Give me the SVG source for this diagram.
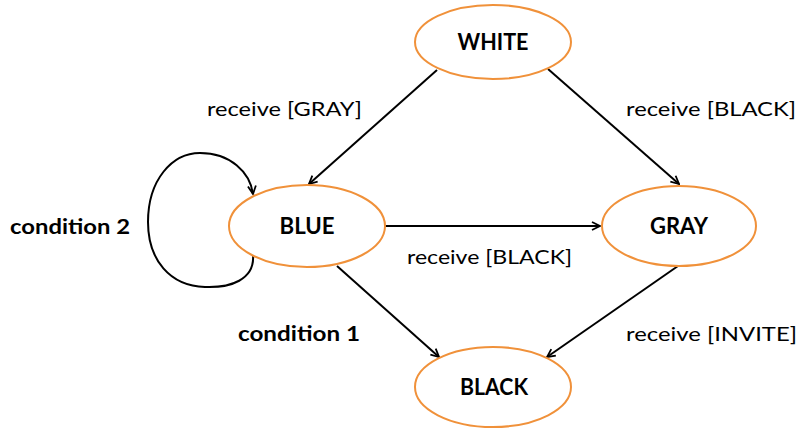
<svg xmlns="http://www.w3.org/2000/svg" width="798" height="434" viewBox="0 0 798 434">
<style>
.node ellipse{fill:#fff;stroke:#F0913A;stroke-width:2}
.nl{font-family:Lato,"Open Sans","Liberation Sans",sans-serif;font-weight:bold;font-size:23px;fill:#000;text-anchor:middle}
.el{font-family:Lato,"Open Sans","Liberation Sans",sans-serif;font-size:20px;fill:#000}
.eb{font-family:Lato,"Open Sans","Liberation Sans",sans-serif;font-size:20px;font-weight:bold;fill:#000}
.edges path{fill:none;stroke:#000;stroke-width:2;marker-end:url(#ah)}
</style>
<defs>
<marker id="ah" viewBox="0 0 10 10" refX="9" refY="5" markerWidth="10" markerHeight="10" markerUnits="userSpaceOnUse" orient="auto">
<path d="M1,1 L9,5 L1,9" fill="none" stroke="#000" stroke-width="1.8"/>
</marker>
</defs>
<rect width="798" height="434" fill="#fff"/>
<g class="edges" id="edges">
<path d="M437,70 L309,184"/>
<path d="M548,69 L679,184"/>
<path d="M385,226 L600,226"/>
<path d="M337,266 L439,357"/>
<path d="M678,266 L547,357"/>
<path d="M253,255 C255,280 230,288 205,287 C170,286 148,260 148,222 C148,180 172,153 200,153 C230,153 250,172 253,194"/>
</g>
<g id="n-white" class="node"><ellipse cx="493" cy="42" rx="78" ry="37"/><text class="nl" x="493" y="50" textLength="71" lengthAdjust="spacingAndGlyphs">WHITE</text></g>
<g id="n-blue" class="node"><ellipse cx="307" cy="226" rx="78" ry="41"/><text class="nl" x="307" y="234" textLength="55" lengthAdjust="spacingAndGlyphs">BLUE</text></g>
<g id="n-gray" class="node"><ellipse cx="679" cy="226" rx="77" ry="40"/><text class="nl" x="679" y="234" textLength="58" lengthAdjust="spacingAndGlyphs">GRAY</text></g>
<g id="n-black" class="node"><ellipse cx="493" cy="387" rx="78" ry="40"/><text class="nl" x="494" y="395" textLength="68" lengthAdjust="spacingAndGlyphs">BLACK</text></g>
<g id="labels">
<text class="el" x="207" y="116" textLength="155" lengthAdjust="spacingAndGlyphs">receive [GRAY]</text>
<text class="el" x="626" y="116" textLength="170" lengthAdjust="spacingAndGlyphs">receive [BLACK]</text>
<text class="el" x="407" y="264" textLength="165" lengthAdjust="spacingAndGlyphs">receive [BLACK]</text>
<text class="el" x="626" y="341" textLength="171" lengthAdjust="spacingAndGlyphs">receive [INVITE]</text>
<text class="eb" x="238" y="341" textLength="122" lengthAdjust="spacingAndGlyphs">condition 1</text>
<text class="eb" x="10" y="234" textLength="120" lengthAdjust="spacingAndGlyphs">condition 2</text>
</g>
</svg>
